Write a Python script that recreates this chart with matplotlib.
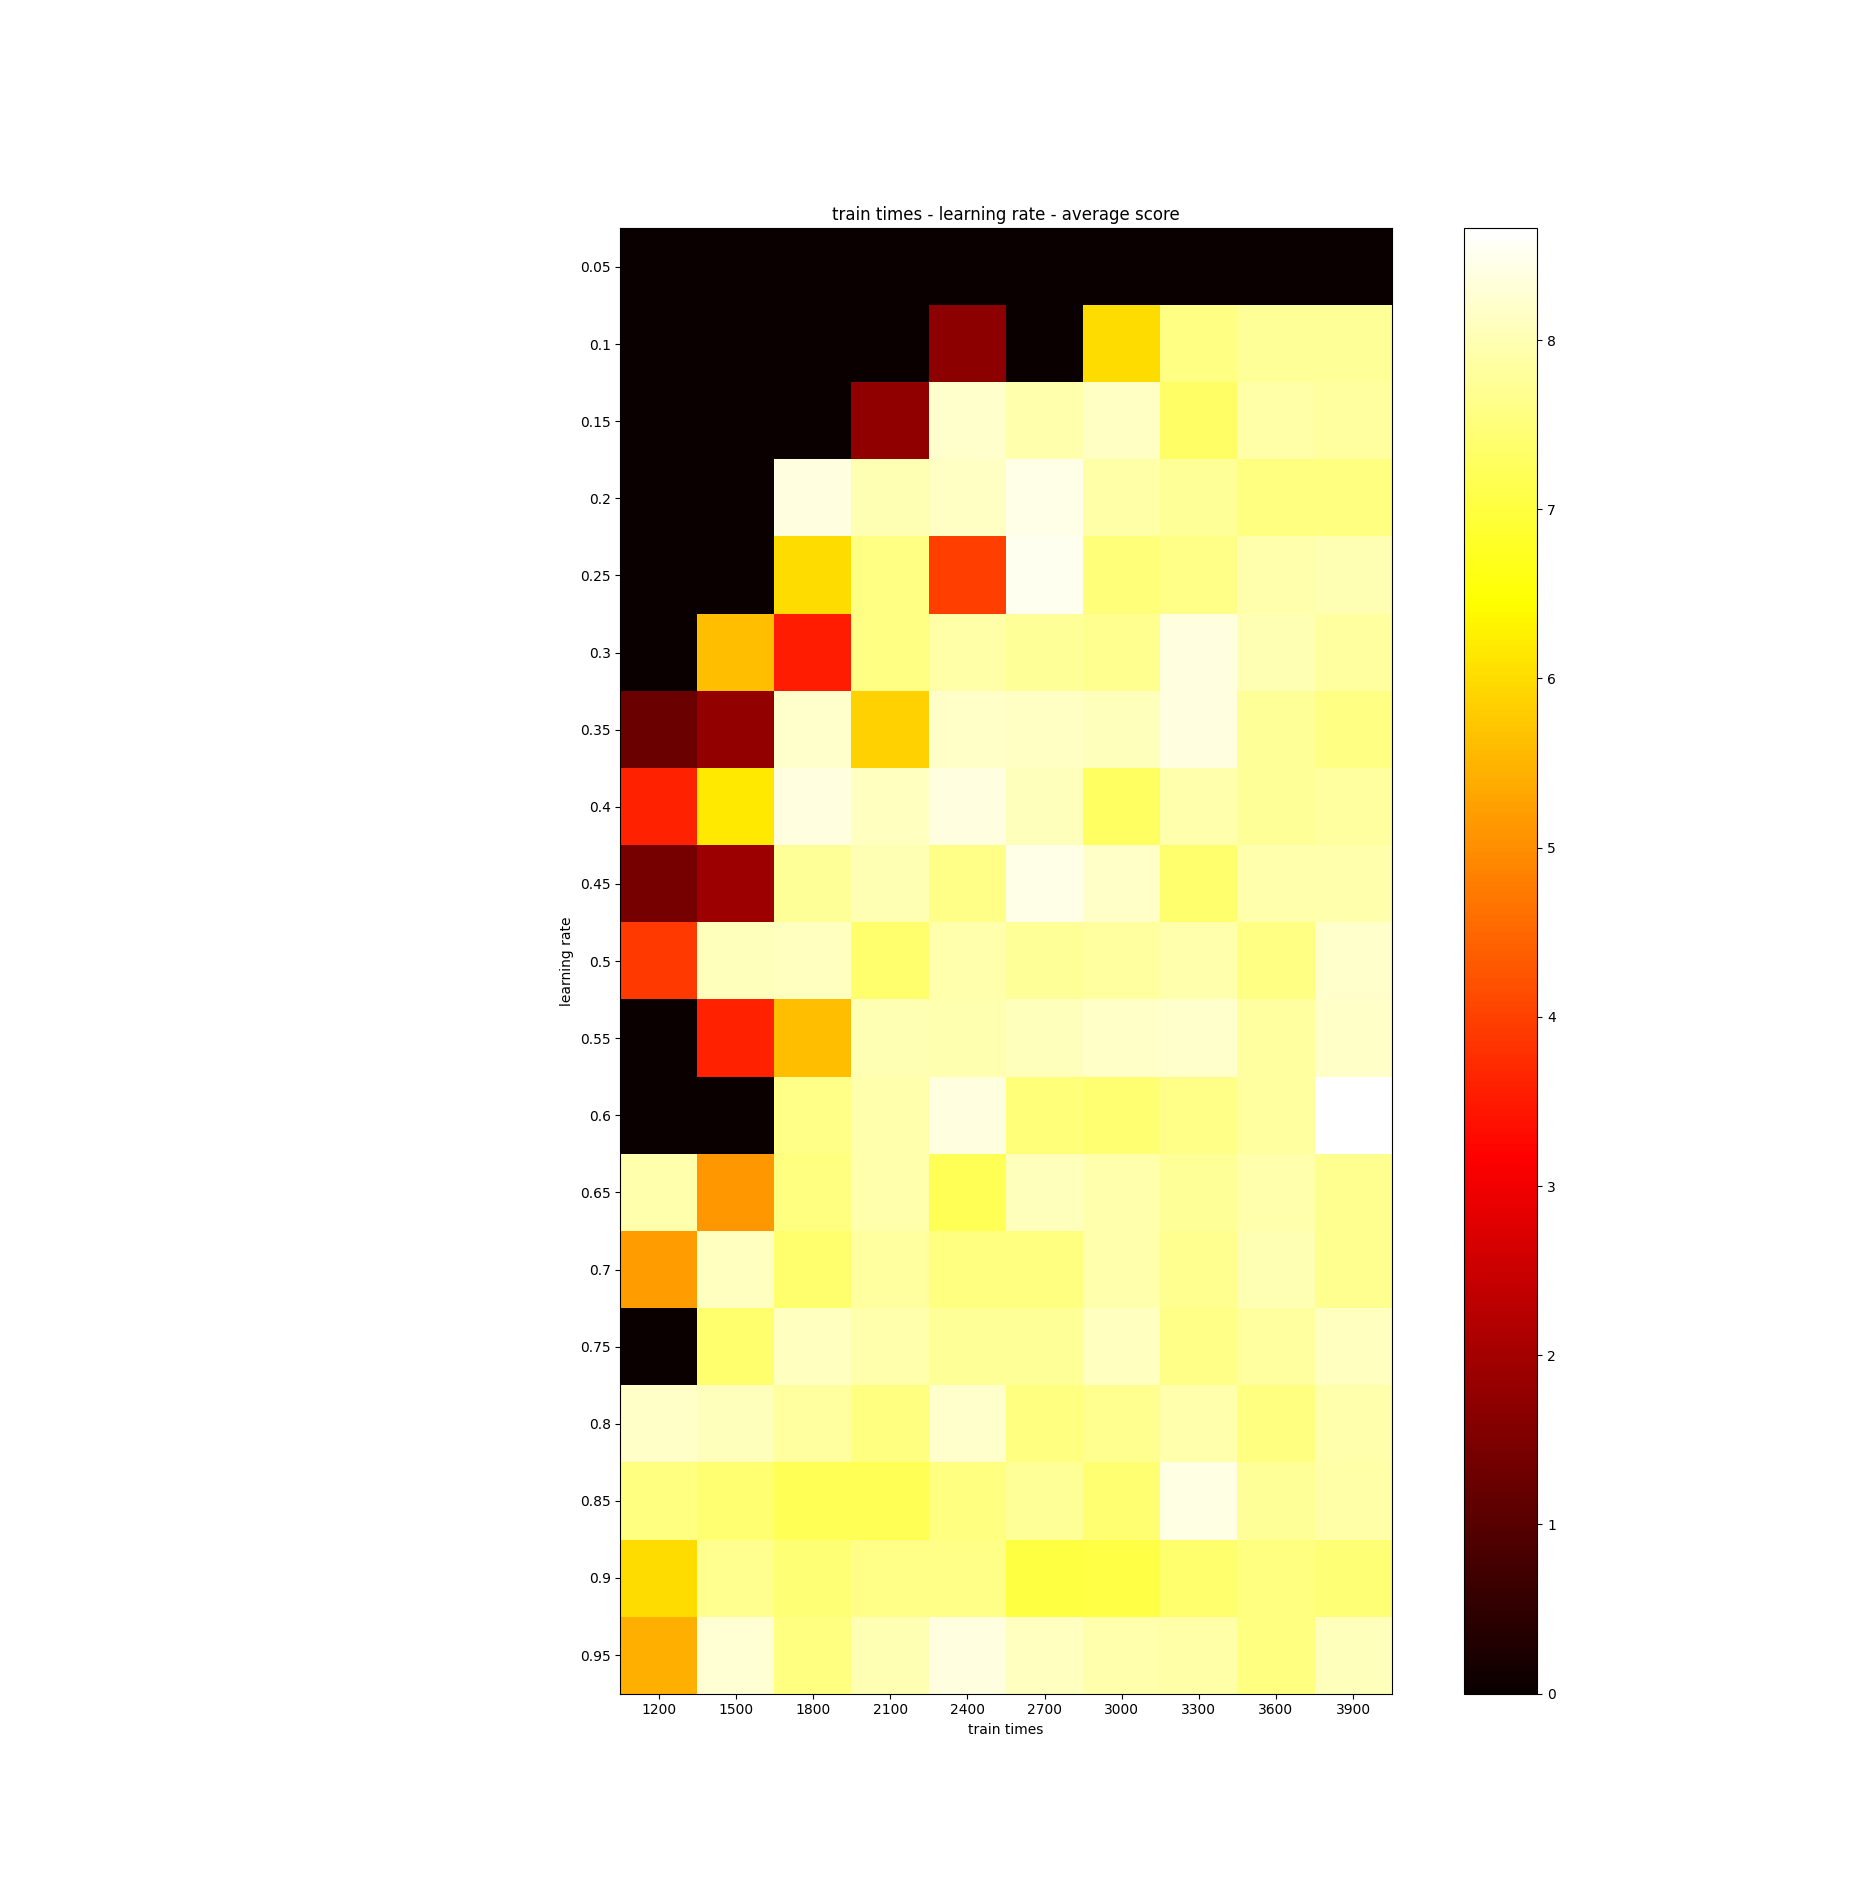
import numpy as np
from matplotlib import pyplot as plt

train_times = [1200, 1500, 1800, 2100, 2400, 2700, 3000, 3300, 3600, 3900]
learning_rates = [0.05, 0.1, 0.15, 0.2, 0.25, 0.3, 0.35, 0.4, 0.45, 0.5,
                  0.55, 0.6, 0.65, 0.7, 0.75, 0.8, 0.85, 0.9, 0.95]

# average score, one row per learning rate, one column per train times value
scores = [
    [0.00, 0.00, 0.00, 0.00, 0.00, 0.00, 0.00, 0.00, 0.00, 0.00],
    [0.00, 0.00, 0.00, 0.00, 1.72, 0.00, 6.02, 7.60, 7.78, 7.78],
    [0.00, 0.00, 0.00, 1.75, 8.22, 7.93, 8.12, 7.34, 7.90, 7.84],
    [0.00, 0.00, 8.37, 8.00, 8.12, 8.44, 7.90, 7.78, 7.56, 7.56],
    [0.00, 0.00, 6.02, 7.60, 3.99, 8.50, 7.48, 7.63, 7.93, 8.00],
    [0.00, 5.64, 3.52, 7.60, 7.90, 7.78, 7.70, 8.37, 8.00, 7.84],
    [1.26, 1.79, 8.22, 5.87, 8.16, 8.12, 8.07, 8.37, 7.78, 7.60],
    [3.61, 6.16, 8.37, 8.11, 8.37, 8.07, 7.29, 7.93, 7.75, 7.84],
    [1.41, 1.92, 7.78, 8.00, 7.63, 8.44, 8.16, 7.38, 7.93, 7.93],
    [3.91, 8.07, 8.11, 7.38, 7.93, 7.75, 7.84, 7.93, 7.60, 8.22],
    [0.00, 3.60, 5.64, 8.00, 7.97, 8.07, 8.16, 8.22, 7.84, 8.16],
    [0.00, 0.00, 7.63, 7.93, 8.37, 7.48, 7.43, 7.63, 7.84, 8.66],
    [7.93, 5.14, 7.56, 7.93, 7.20, 8.07, 7.93, 7.75, 7.93, 7.70],
    [5.20, 8.11, 7.38, 7.84, 7.56, 7.56, 7.93, 7.70, 8.00, 7.70],
    [0.00, 7.38, 8.11, 7.93, 7.78, 7.78, 8.11, 7.63, 7.84, 8.11],
    [8.16, 8.07, 7.84, 7.56, 8.22, 7.56, 7.70, 7.93, 7.56, 7.93],
    [7.56, 7.43, 7.20, 7.20, 7.56, 7.78, 7.43, 8.40, 7.78, 7.90],
    [6.00, 7.70, 7.47, 7.63, 7.63, 7.01, 7.06, 7.38, 7.56, 7.47],
    [5.44, 8.26, 7.56, 8.00, 8.37, 8.11, 7.93, 7.90, 7.56, 8.07],
]

data = np.array(scores)

fig = plt.figure(figsize=(18.68, 19.03), dpi=100)
im = plt.imshow(data, cmap='hot', interpolation='nearest')
plt.colorbar(im)
plt.xticks(range(len(train_times)), train_times)
plt.yticks(range(len(learning_rates)), learning_rates)
plt.xlabel('train times')
plt.ylabel('learning rate')
plt.title('train times - learning rate - average score')
plt.savefig('out.png')
